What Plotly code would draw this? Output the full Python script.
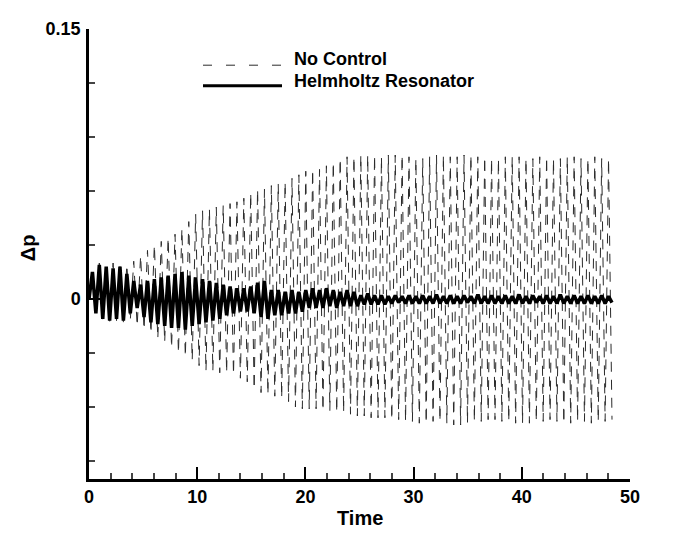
import numpy as np
import plotly.graph_objects as go

# Sampling of the extrema (half-period spacing of the oscillation)
half_period = 0.318

# No Control: (peak, trough) per cycle
no_control_pairs = [
    (0.014, -0.008), (0.020, -0.012), (0.019, -0.013), (0.020, -0.012), (0.018, -0.013),
    (0.019, -0.012), (0.021, -0.015), (0.024, -0.017), (0.027, -0.019), (0.030, -0.022),
    (0.032, -0.024), (0.034, -0.027), (0.036, -0.030), (0.039, -0.032), (0.043, -0.034),
    (0.047, -0.037), (0.049, -0.040), (0.050, -0.040), (0.051, -0.041), (0.052, -0.041),
    (0.053, -0.042), (0.054, -0.044), (0.056, -0.046), (0.059, -0.050), (0.061, -0.052),
    (0.061, -0.053), (0.063, -0.054), (0.064, -0.055), (0.065, -0.057), (0.067, -0.060),
    (0.069, -0.061), (0.071, -0.061), (0.072, -0.061), (0.072, -0.062), (0.074, -0.062),
    (0.076, -0.063), (0.078, -0.063), (0.079, -0.064), (0.079, -0.065), (0.080, -0.065),
    (0.080, -0.066), (0.080, -0.066), (0.079, -0.066), (0.080, -0.067), (0.080, -0.067),
    (0.080, -0.068), (0.079, -0.068), (0.078, -0.069), (0.078, -0.069), (0.079, -0.068),
    (0.080, -0.068), (0.080, -0.069), (0.079, -0.070), (0.079, -0.070), (0.080, -0.069),
    (0.080, -0.068), (0.079, -0.068), (0.079, -0.067), (0.078, -0.067), (0.078, -0.068),
    (0.079, -0.068), (0.079, -0.069), (0.079, -0.069), (0.078, -0.069), (0.078, -0.068),
    (0.079, -0.068), (0.079, -0.067), (0.078, -0.068), (0.078, -0.069), (0.079, -0.069),
    (0.079, -0.068), (0.078, -0.068), (0.078, -0.069), (0.079, -0.068), (0.078, -0.068),
    (0.078, -0.067),
]

# Helmholtz Resonator: (peak, trough) per cycle
helmholtz_pairs = [
    (0.015, -0.008), (0.019, -0.011), (0.018, -0.012), (0.017, -0.011), (0.018, -0.012),
    (0.014, -0.008), (0.010, -0.005), (0.008, -0.010), (0.010, -0.013), (0.011, -0.014),
    (0.012, -0.015), (0.013, -0.016), (0.014, -0.016), (0.015, -0.017), (0.013, -0.015),
    (0.012, -0.014), (0.011, -0.013), (0.010, -0.012), (0.009, -0.011), (0.008, -0.009),
    (0.007, -0.008), (0.006, -0.007), (0.006, -0.007), (0.007, -0.008), (0.009, -0.010),
    (0.010, -0.011), (0.005, -0.009), (0.005, -0.009), (0.004, -0.008), (0.005, -0.008),
    (0.004, -0.007), (0.005, -0.005), (0.006, -0.005), (0.005, -0.005), (0.006, -0.004),
    (0.005, -0.005), (0.004, -0.004), (0.005, -0.004), (0.004, -0.004), (0.002, -0.003),
    (0.003, -0.003), (0.002, -0.003), (0.002, -0.003), (0.0015, -0.0025), (0.002, -0.002),
    (0.0015, -0.0025), (0.002, -0.0025), (0.0015, -0.0025), (0.002, -0.0025), (0.0015, -0.0025),
    (0.0025, -0.0025), (0.0015, -0.0025), (0.002, -0.0025), (0.0015, -0.0025), (0.002, -0.002),
    (0.0015, -0.0025), (0.0025, -0.0025), (0.0015, -0.0025), (0.002, -0.0025), (0.0015, -0.0025),
    (0.002, -0.0025), (0.0015, -0.0025), (0.0025, -0.0025), (0.0015, -0.0025), (0.002, -0.002),
    (0.0015, -0.0025), (0.002, -0.0025), (0.0015, -0.0025), (0.0025, -0.0025), (0.0015, -0.0025),
    (0.002, -0.0025), (0.0015, -0.0025), (0.002, -0.0025), (0.0015, -0.0025), (0.002, -0.0025),
    (0.0015, -0.002),
]

x_range = [0, 50]
y_range = [-0.1, 0.15]
x_dtick = 10
x_minor = 2
y_tickvals = [0, 0.15]
y_ticktext = ["0", "0.15"]
y_minor = 0.03

legend_names = ["No Control", "Helmholtz Resonator"]
x_title = "Time"
y_title = "\u0394p"


def series(pairs):
    vals = [0.0]
    for p, q in pairs:
        vals += [p, q]
    t = np.arange(len(vals)) * half_period
    return t, np.array(vals)


t_nc, p_nc = series(no_control_pairs)
t_hr, p_hr = series(helmholtz_pairs)

FONT = "Liberation Sans, Arial, sans-serif"

fig = go.Figure()
fig.add_trace(go.Scatter(x=t_nc, y=p_nc, mode="lines", name=legend_names[0],
                         line=dict(color="#2a2a2a", width=1, dash="10px,8px")))
fig.add_trace(go.Scatter(x=t_hr, y=p_hr, mode="lines", name=legend_names[1],
                         line=dict(color="black", width=3.5)))

# page body has an 8px default margin; sizes below are chosen in page pixels
OFF = 8
W, H = 668, 527
plot_left, plot_right, plot_top, plot_bottom = 89, 630, 19, 479   # page pixels
L = plot_left - OFF
T = plot_top - OFF
R = W - (plot_right - OFF)
B = H - (plot_bottom - OFF)
pw, ph = W - L - R, H - T - B


def px(x):
    return (x - plot_left) / pw


def py(y):
    return (plot_bottom - y) / ph


# manual legend (long line samples like the original)
fig.add_shape(type="line", xref="paper", yref="paper", x0=px(203), x1=px(282), y0=py(56), y1=py(56),
              line=dict(color="#2a2a2a", width=1, dash="9px,14px"))
fig.add_shape(type="line", xref="paper", yref="paper", x0=px(203), x1=px(282), y0=py(77), y1=py(77),
              line=dict(color="black", width=3))
fig.add_annotation(xref="paper", yref="paper", x=px(292), y=py(50), text=legend_names[0],
                   showarrow=False, xanchor="left", yanchor="middle",
                   font=dict(family=FONT, size=18, color="black", weight="bold"))
fig.add_annotation(xref="paper", yref="paper", x=px(292), y=py(72), text=legend_names[1],
                   showarrow=False, xanchor="left", yanchor="middle",
                   font=dict(family=FONT, size=18, color="black", weight="bold"))

# axis titles
fig.add_annotation(xref="paper", yref="paper", x=0.5, y=py(519), text=x_title,
                   showarrow=False, xanchor="center", yanchor="middle",
                   font=dict(family=FONT, size=20, color="black", weight="bold"))
fig.add_annotation(xref="paper", yref="paper", x=px(28), y=py(243), text=y_title, textangle=-90,
                   showarrow=False, xanchor="center", yanchor="middle",
                   font=dict(family=FONT, size=20, color="black", weight="bold"))

fig.update_layout(
    width=W, height=H,
    margin=dict(l=L, r=R, t=T, b=B),
    paper_bgcolor="white", plot_bgcolor="white",
    showlegend=False,
    font=dict(family=FONT, color="black"),
    xaxis=dict(range=x_range, dtick=x_dtick, tick0=0, showgrid=False, zeroline=False,
               showline=True, linecolor="black", linewidth=2.5,
               ticks="inside", ticklen=12, tickwidth=2, tickcolor="black",
               tickfont=dict(family=FONT, size=18, color="black", weight="bold"),
               minor=dict(dtick=x_minor, tick0=0, ticks="inside", ticklen=6, tickwidth=1.5,
                          tickcolor="#444", showgrid=False)),
    yaxis=dict(range=y_range, tickmode="array", tickvals=y_tickvals, ticktext=y_ticktext,
               showgrid=False, zeroline=False,
               showline=True, linecolor="black", linewidth=2.5,
               ticks="inside", ticklen=12, tickwidth=2, tickcolor="black",
               ticklabelstandoff=2,
               tickfont=dict(family=FONT, size=18, color="black", weight="bold"),
               minor=dict(dtick=y_minor, tick0=0, ticks="inside", ticklen=6, tickwidth=1.5,
                          tickcolor="#444", showgrid=False)),
)

fig.write_html("out.html")
